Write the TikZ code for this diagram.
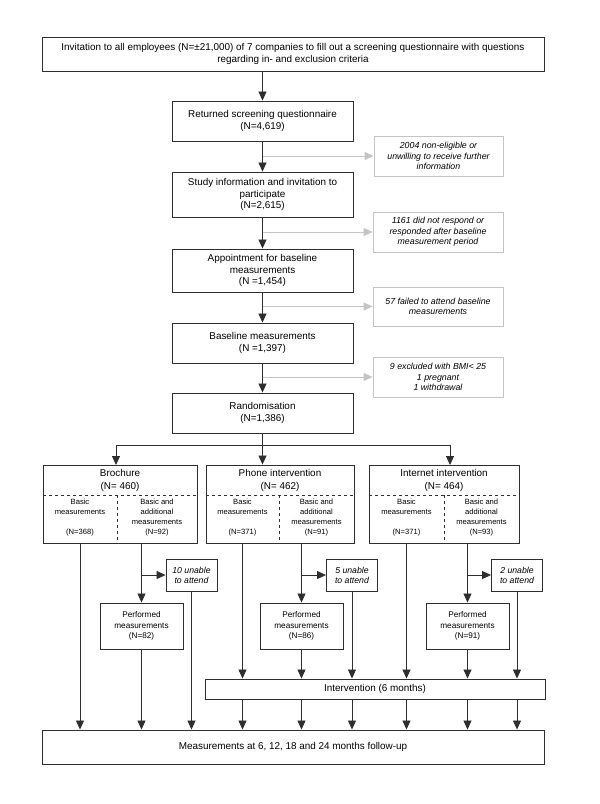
\documentclass[tikz,border=0pt]{standalone}
\usepackage{fontspec}
\setmainfont{Liberation Sans}
\usetikzlibrary{arrows.meta}
\usetikzlibrary{positioning}
\usetikzlibrary{calc}
\definecolor{linegray}{HTML}{2E2E2E}
\definecolor{exclgray}{HTML}{C4C4C4}
\tikzstyle{stepbox} = [rectangle, draw=linegray, line width=0.9pt, align=center, inner sep=2pt, font=\fontsize{9.9}{11.7}\selectfont]
\tikzstyle{exclbox} = [rectangle, draw=exclgray, line width=0.8pt, align=center, inner sep=2pt, font=\fontsize{8.8}{10.3}\selectfont\itshape]
\tikzstyle{armhead} = [align=center, inner sep=0pt, font=\fontsize{9.9}{12.5}\selectfont]
\tikzstyle{subtext} = [align=center, inner sep=0pt, font=\fontsize{7.6}{10}\selectfont]
\tikzstyle{perfbox} = [rectangle, draw=linegray, line width=0.9pt, align=center, inner sep=2pt, minimum width=83pt, minimum height=46pt, font=\fontsize{8.2}{10.5}\selectfont]
\tikzstyle{unablebox} = [rectangle, draw=linegray, line width=0.9pt, align=center, inner sep=1pt, minimum width=51pt, minimum height=32pt, font=\fontsize{8.7}{10}\selectfont\itshape]
\tikzstyle{flow} = [draw=linegray, line width=0.8pt, -{Triangle[length=9pt,width=8pt]}]
\tikzstyle{exclflow} = [draw=exclgray, line width=1pt, -{Triangle[length=9pt,width=8pt]}]
\tikzstyle{divider} = [draw=linegray, line width=0.8pt, dashed]

\begin{document}
\begin{tikzpicture}[x=1pt,y=-1pt]
		\useasboundingbox (0,0) rectangle (600,804);
		% main column
		\node[stepbox, minimum width=502pt, minimum height=34pt] (invite) at (293,54) {Invitation to all employees (N=±21,000) of 7 companies to fill out a screening questionnaire with questions\\regarding in- and exclusion criteria};
		\node[stepbox, minimum width=181pt, minimum height=40pt] (returned) at (262.5,121) {Returned screening questionnaire\\(N=4,619)};
		\node[stepbox, minimum width=181pt, minimum height=45pt] (study) at (262.5,194.5) {Study information and invitation to\\participate\\(N=2,615)};
		\node[stepbox, minimum width=181pt, minimum height=43pt] (appoint) at (262.5,270.5) {Appointment for baseline\\measurements\\(N =1,454)};
		\node[stepbox, minimum width=181pt, minimum height=40pt] (baseline) at (262.5,343) {Baseline measurements\\(N =1,397)};
		\node[stepbox, minimum width=181pt, minimum height=40pt] (random) at (262.5,413) {Randomisation\\(N=1,386)};
		% exclusions
		\node[exclbox, minimum width=129pt, minimum height=40pt] (excl1) at (438.5,156) {2004 non-eligible or\\unwilling to receive further\\information};
		\node[exclbox, minimum width=130pt, minimum height=40pt] (excl2) at (438,232) {1161 did not respond or\\responded after baseline\\measurement period};
		\node[exclbox, minimum width=130pt, minimum height=39pt] (excl3) at (438,306.5) {57 failed to attend baseline\\measurements};
		\node[exclbox, minimum width=130pt, minimum height=40pt] (excl4) at (438,377) {9 excluded with BMI< 25\\1 pregnant\\1 withdrawal};
		\draw[flow] (invite.south -| returned.north) -- (returned.north);
		\draw[flow] (returned) -- (study);
		\draw[flow] (study) -- (appoint);
		\draw[flow] (appoint) -- (baseline);
		\draw[flow] (baseline) -- (random);
		\draw[exclflow] (returned.south |- excl1.west) -- (excl1.west);
		\draw[exclflow] (study.south |- excl2.west) -- (excl2.west);
		\draw[exclflow] (appoint.south |- excl3.west) -- (excl3.west);
		\draw[exclflow] (baseline.south |- excl4.west) -- (excl4.west);
		% three arms
		\node[stepbox, minimum width=154pt, minimum height=78pt] (bro) at (120,504) {};
		\node[stepbox, minimum width=148pt, minimum height=78pt] (ph) at (280,504) {};
		\node[stepbox, minimum width=150pt, minimum height=78pt] (in) at (444,504) {};
		\draw[divider] (43,495) -- (197,495) (117,495) -- (117,543);
		\draw[divider] (206,495) -- (354,495) (279,495) -- (279,543);
		\draw[divider] (369,495) -- (519,495) (444,495) -- (444,543);
		\node[armhead] (broHead) at (120,480.5) {Brochure\\(N= 460)};
		\node[armhead] (phHead) at (280,480.5) {Phone intervention\\(N= 462)};
		\node[armhead] (inHead) at (444,480.5) {Internet intervention\\(N= 464)};
		\node[subtext] (broBasic) at (80,518) {Basic\\measurements\\[10pt](N=368)};
		\node[subtext] (broAdd) at (157,518) {Basic and\\additional\\measurements\\(N=92)};
		\node[subtext] (phBasic) at (242.5,518) {Basic\\measurements\\[10pt](N=371)};
		\node[subtext] (phAdd) at (316.5,518) {Basic and\\additional\\measurements\\(N=91)};
		\node[subtext] (inBasic) at (406.5,518) {Basic\\measurements\\[10pt](N=371)};
		\node[subtext] (inAdd) at (481.5,518) {Basic and\\additional\\measurements\\(N=93)};
		\coordinate (split) at ($(random.south)+(0,12)$);
		\coordinate (broTop) at (116,465);
		\coordinate (inTop) at (450,465);
		\draw[draw=linegray, line width=0.8pt] (random.south) -- (split);
		\draw[flow] (split) -| (broTop);
		\draw[flow] (split) -| (inTop);
		\draw[flow] (split) -- (split |- ph.north);
		% additional measurements
		\node[perfbox] (broPerf) at (141.5,626) {Performed\\measurements\\(N=82)};
		\node[perfbox] (phPerf) at (301.5,626) {Performed\\measurements\\(N=86)};
		\node[perfbox] (inPerf) at (467.5,626) {Performed\\measurements\\(N=91)};
		\node[unablebox] (broUnable) at (191.5,575) {10 unable\\to attend};
		\node[unablebox] (phUnable) at (352,575) {5 unable\\to attend};
		\node[unablebox] (inUnable) at (517,575) {2 unable\\to attend};
		\foreach \arm in {bro,ph,in} {
			\draw[flow] (\arm Perf.north |- \arm.south) -- (\arm Perf.north);
			\draw[flow] (\arm Perf.north |- \arm Unable.west) -- (\arm Unable.west);
		}
		% follow-up
		\node[stepbox, minimum width=340pt, minimum height=20pt] (interv) at (375,689) {Intervention (6 months)};
		\node[stepbox, minimum width=502pt, minimum height=34pt] (meas) at (293,747) {Measurements at 6, 12, 18 and 24 months follow-up};
		\draw[flow] (broBasic |- bro.south) -- (broBasic |- meas.north);
		\draw[flow] (broPerf.south) -- (broPerf.south |- meas.north);
		\draw[flow] (broUnable.south) -- (broUnable.south |- meas.north);
		\draw[flow] (phBasic |- ph.south) -- (phBasic |- interv.north);
		\draw[flow] (inBasic |- in.south) -- (inBasic |- interv.north);
		\foreach \n in {phPerf,phUnable,inPerf,inUnable}
			\draw[flow] (\n.south) -- (\n.south |- interv.north);
		\foreach \n in {phBasic,phPerf,phUnable,inBasic,inPerf,inUnable}
			\draw[flow] (\n |- interv.south) -- (\n |- meas.north);
	\end{tikzpicture}
\end{document}
